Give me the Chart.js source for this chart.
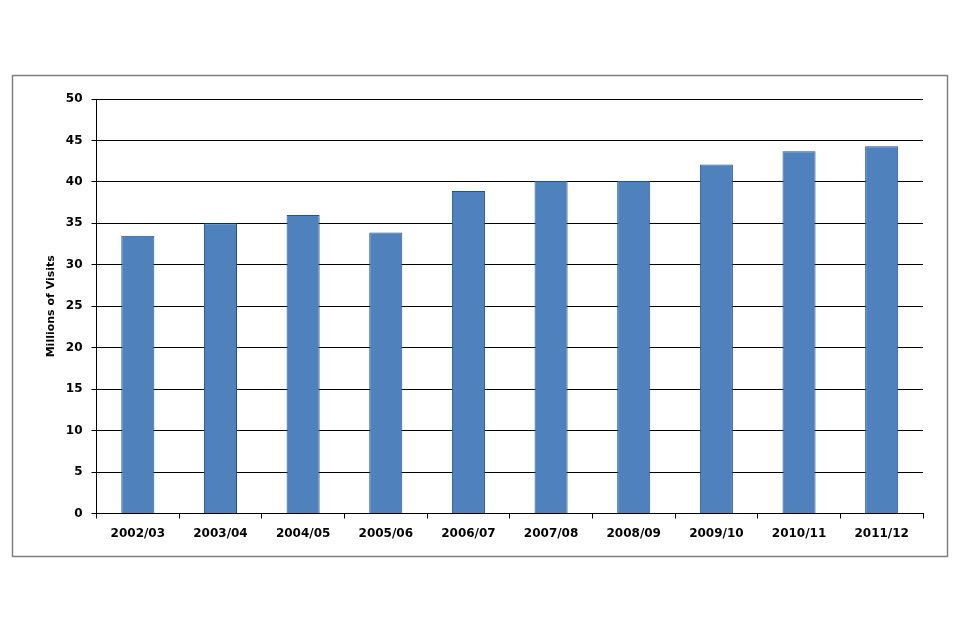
<!DOCTYPE html>
<html>
<head>
<meta charset="utf-8">
<script src="https://cdn.jsdelivr.net/npm/chart.js@4.4.1/dist/chart.umd.min.js"></script>
<style>
  html, body { margin: 0; padding: 0; background: #fff; }
  #wrap { position: relative; width: 960px; height: 640px; }
</style>
</head>
<body>
<div id="wrap"><canvas id="visitsChart" width="960" height="640"></canvas></div>
<script>
// financial years and visit totals (millions)
var years = ['2002/03', '2003/04', '2004/05', '2005/06', '2006/07', '2007/08', '2008/09', '2009/10', '2010/11', '2011/12'];
var visits = [33.5, 35.0, 36.0, 33.9, 38.9, 40.1, 40.1, 42.1, 43.7, 44.3];
var yTicks = [0, 5, 10, 15, 20, 25, 30, 35, 40, 45, 50];

// grey frame round the whole chart
var framePlugin = {
    id: 'frame',
    beforeDraw: function (chart) {
        var c = chart.ctx;
        c.save();
        c.strokeStyle = '#7f7f7f';
        c.lineWidth = 1.5;
        c.strokeRect(12.5, 75.5, 935, 481);
        c.restore();
    }
};

var ctx = document.getElementById("visitsChart");
var visitsChart = new Chart(ctx, {
    type: 'bar',
    data: {
        labels: years,
        datasets: [{
            label: 'Millions of Visits',
            data: visits,
            backgroundColor: '#4f81bd',
            borderColor: '#1f4f9f',
            borderWidth: 1,
            barPercentage: 0.4,
            categoryPercentage: 1.0
        }]
    },
    options: {
        responsive: false,
        animation: false,
        layout: {
            padding: { left: 40, top: 99, right: 37, bottom: 0 }
        },
        plugins: {
            legend: { display: false },
            tooltip: { enabled: false }
        },
        scales: {
            x: {
                grid: {
                    display: true,
                    drawOnChartArea: false,
                    offset: true,
                    tickLength: 5,
                    color: '#000'
                },
                border: { color: '#000', width: 1 },
                ticks: {
                    color: '#000',
                    padding: 8,
                    maxRotation: 0,
                    font: { family: 'DejaVu Sans', weight: 'bold', size: 12 }
                },
                afterFit: function (scale) { scale.height = 126.5; }
            },
            y: {
                min: 0,
                max: 50,
                afterBuildTicks: function (scale) {
                    scale.ticks = yTicks.map(function (v) { return { value: v }; });
                },
                grid: {
                    color: '#000',
                    tickLength: 5,
                    lineWidth: 1
                },
                border: { color: '#000', width: 1 },
                ticks: {
                    color: '#000',
                    padding: 9,
                    font: { family: 'DejaVu Sans', weight: 'bold', size: 12 }
                },
                title: {
                    display: true,
                    text: 'Millions of Visits',
                    color: '#000',
                    padding: { top: 5, bottom: 0 },
                    font: { family: 'DejaVu Sans', weight: 'bold', size: 11 }
                },
                afterFit: function (scale) { scale.width = 56.5; }
            }
        }
    },
    plugins: [framePlugin]
});
</script>
</body>
</html>
